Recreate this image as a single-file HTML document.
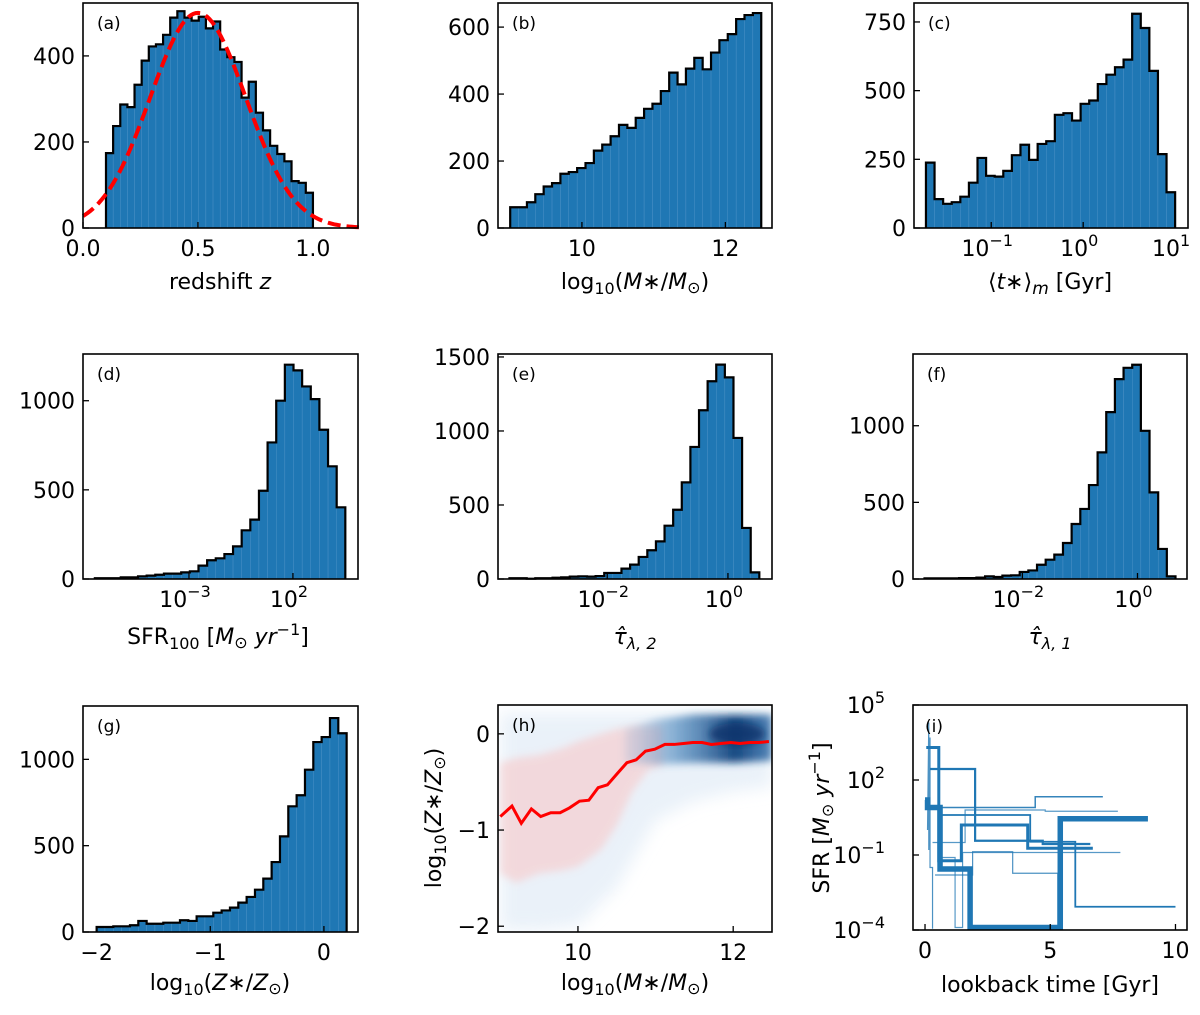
<!DOCTYPE html>
<html><head><meta charset="utf-8">
<style>
html,body{margin:0;padding:0;background:#fff;}
svg{display:block;font-family:"DejaVu Sans","Liberation Sans",sans-serif;}
</style></head>
<body>
<svg id="fig" width="1200" height="1015" viewBox="0 0 1200 1015" xmlns="http://www.w3.org/2000/svg">
<defs>
<filter id="blur4" x="-20%" y="-20%" width="140%" height="140%"><feGaussianBlur stdDeviation="4"/></filter>
<filter id="blur8" x="-30%" y="-30%" width="160%" height="160%"><feGaussianBlur stdDeviation="8"/></filter>
<linearGradient id="blueGrad" x1="0" y1="0" x2="1" y2="0">
<stop offset="0" stop-color="#6a9ccb" stop-opacity="0.15"/>
<stop offset="0.35" stop-color="#3f7fb8" stop-opacity="0.6"/>
<stop offset="0.75" stop-color="#0d3f7a" stop-opacity="0.95"/>
<stop offset="1" stop-color="#2a6aa8" stop-opacity="0.8"/>
</linearGradient>
<clipPath id="clipH"><rect x="498" y="705" width="274" height="227"/></clipPath>
<clipPath id="clipI"><rect x="913" y="705" width="274" height="225"/></clipPath>
</defs>
</svg>
<script>
// ---------- DATA ----------
const aRange=[0.1,1.0];
const aCounts=[174,237,287,281,333,389,422,427,449,489,504,489,482,491,464,480,415,397,386,303,340,268,227,191,172,155,109,105,82];
const gaussMu=0.5, gaussSigma=0.208, gaussAmp=500;
const bRange=[9.0,12.5];
const bCounts=[62,62,77,101,124,134,162,167,179,194,231,249,274,308,299,329,356,371,409,464,429,476,508,474,524,561,579,624,636,642];
const cRangeLog=[-1.71,1.0];
const cCounts=[238,105,88,94,114,165,255,190,187,208,265,303,248,306,316,412,418,391,452,464,524,558,585,613,780,728,572,269,130];
const dRangeLog=[-7.53,4.52];
const dCounts=[4,4,4,9,9,15,19,24,30,30,37,43,75,105,116,140,183,273,333,495,766,1000,1202,1170,1080,1009,837,632,402];
const eRangeLog=[-3.62,0.52];
const eCounts=[5,5,2,5,5,9,11,16,18,16,20,41,41,70,97,149,194,254,360,468,653,892,1140,1336,1448,1362,953,345,45];
const fRangeLog=[-3.70,0.66];
const fCounts=[4,4,4,4,6,6,9,17,13,22,24,46,56,93,126,159,235,359,457,613,826,1089,1304,1378,1398,967,565,196,17];
const gRange=[-2.0,0.2];
const gCounts=[29,29,33,33,39,64,48,48,54,54,68,64,91,91,112,125,141,170,203,245,309,405,554,728,792,940,1100,1129,1239,1151];
// panel h
const hMedX=[9.0,9.15,9.27,9.4,9.52,9.65,9.77,9.89,10.02,10.14,10.26,10.38,10.51,10.63,10.75,10.87,10.99,11.12,11.24,11.36,11.48,11.6,11.72,11.84,11.97,12.09,12.21,12.33,12.46];
const hMedY=[-0.86,-0.75,-0.93,-0.78,-0.86,-0.82,-0.82,-0.77,-0.70,-0.69,-0.56,-0.53,-0.41,-0.30,-0.27,-0.18,-0.16,-0.11,-0.11,-0.10,-0.09,-0.09,-0.11,-0.10,-0.09,-0.10,-0.09,-0.09,-0.08];
const hBandX=[9.0,9.2,9.5,9.8,10.0,10.3,10.5,10.7,10.9,11.1];
const hBandHi=[-0.30,-0.25,-0.22,-0.15,-0.08,0.0,0.05,0.08,0.08,0.08];
const hBandLo=[-1.45,-1.55,-1.45,-1.42,-1.38,-1.2,-0.95,-0.6,-0.38,-0.32];
const hCloudX=[9.0,9.5,10.0,10.5,11.0,11.5,12.0,12.5];
const hCloudHi=[0.22,0.22,0.22,0.22,0.22,0.22,0.22,0.22];
const hCloudLo=[-2.05,-2.05,-2.0,-1.6,-0.9,-0.7,-0.6,-0.55];
const hDenseX=[10.6,11.0,11.5,12.0,12.5];
const hDenseHi=[0.05,0.15,0.2,0.2,0.2];
const hDenseLo=[-0.3,-0.32,-0.3,-0.3,-0.28];
// panel i: step series [t Gyr], [log10 SFR]
const iT1=[0.0,0.1,0.1,0.6,0.6,1.8,1.8,5.4,5.4,8.9];
const iS1=[1.2,1.2,0.9,0.9,-1.56,-1.56,-3.9,-3.9,0.45,0.45];
const iT2=[0.05,0.55,0.55,1.45,1.45,4.1,4.1,6.7];
const iS2=[3.3,3.3,-1.23,-1.23,0.2,0.2,-0.73,-0.73];
const iT3=[0.2,0.6,0.6,2.0,2.0,4.7,4.7,6.6];
const iS3=[2.44,2.44,2.44,2.44,-0.43,-0.43,-0.56,-0.56];
const iT4=[0.1,1.6,1.6,4.4,4.4,7.1];
const iS4=[0.9,0.9,0.9,0.9,1.33,1.33];
const iT5=[0.3,1.6,1.6,4.8,4.8,7.7];
const iS5=[-0.5,-0.5,0.8,0.8,0.75,0.75];
const iT6=[0.5,4.2,4.2,6.0,6.0,10.0];
const iS6=[0.6,0.6,-0.47,-0.47,-3.07,-3.07];
const iT7=[0.4,1.9,1.9,3.5,3.5,5.3,5.3];
const iS7=[-1.8,-1.8,-0.87,-0.87,-1.73,-1.73,-3.9];
const iT8=[0.1,0.15,0.15,0.2,0.2,0.3,0.3];
const iS8=[0.0,4.3,-0.8,3.7,-1.5,-1.5,-4];
const iT9=[0.5,1.2,1.2,1.5,1.5,4.7,4.7,7.8];
const iS9=[-1.1,-1.1,-3.9,-3.9,-0.9,-0.9,-0.9,-0.9];

// ---------- HELPERS ----------
const NS="http://www.w3.org/2000/svg";
const svg=document.getElementById('fig');
function el(tag,attrs,parent){const e=document.createElementNS(NS,tag);for(const k in attrs)e.setAttribute(k,attrs[k]);(parent||svg).appendChild(e);return e;}
function lin(d0,d1,r0,r1){return v=>r0+(v-d0)/(d1-d0)*(r1-r0);}
const BLUE="#1f77b4";
const TF=22;

function makePanel(name,box,xd,yd){
  const g=el('g',{});
  
  
  return {g,box,X:lin(xd[0],xd[1],box[0],box[1]),Y:lin(yd[0],yd[1],box[3],box[2])};
}
function frame(p){
  const b=p.box;
  const r=el('rect',{x:b[0],y:b[2],width:b[1]-b[0],height:b[3]-b[2],fill:'none',stroke:'#000','stroke-width':1.6},p.g);
  
  
}
function hist(p,range,counts,name){
  const gg=el('g',{},p.g);
  
  
  const n=counts.length,w=(range[1]-range[0])/n;
  let d='M'+p.X(range[0])+','+p.Y(0);
  counts.forEach((c,i)=>{
    const x0=p.X(range[0]+i*w),x1=p.X(range[0]+(i+1)*w);
    const r=el('rect',{x:x0,y:p.Y(c),width:x1-x0,height:p.Y(0)-p.Y(c),fill:BLUE,stroke:'#4f93c8','stroke-width':0.4},gg);
    
    
    d+=' L'+x0+','+p.Y(c)+' L'+x1+','+p.Y(c);
  });
  d+=' L'+p.X(range[1])+','+p.Y(0);
  const o=el('path',{d:d,fill:'none',stroke:'#000','stroke-width':2.2,'stroke-linejoin':'miter'},gg);
  
  
}
function tickLabel(p,txt,x,y,anchor,sup){
  const t=el('text',{x:x,y:y,'text-anchor':anchor,'font-size':TF,fill:'#000'},p.g);
  
  
  if(sup!==undefined){
    const a=el('tspan',{},t);a.textContent=txt;
    const s=el('tspan',{dy:-10,'font-size':16},t);s.textContent=sup;
  } else t.textContent=txt;
}
function xticks(p,vals,labels,sups){
  const b=p.box;
  vals.forEach((v,i)=>{
    const x=p.X(v);
    const l=el('line',{x1:x,x2:x,y1:b[3],y2:b[3]-6,stroke:'#000','stroke-width':1.3},p.g);
    
    
    tickLabel(p,labels[i],sups?x-4:x,b[3]+28,'middle',sups?sups[i]:undefined);
  });
}
function yticks(p,vals,labels,sups){
  const b=p.box;
  vals.forEach((v,i)=>{
    const y=p.Y(v);
    const l=el('line',{x1:b[0],x2:b[0]+6,y1:y,y2:y,stroke:'#000','stroke-width':1.3},p.g);
    
    
    tickLabel(p,labels[i],sups?b[0]-28:b[0]-8,y+8,'end',sups?sups[i]:undefined);
  });
}
function panelLabel(p,txt){
  const t=el('text',{x:p.box[0]+14,y:p.box[2]+26,'font-size':17},p.g);
  t.textContent=txt;
  
  
}
function axisLabel(p,html,x,y,rot){
  const t=el('text',{x:x,y:y,'text-anchor':'middle','font-size':22},p.g);
  if(rot)t.setAttribute('transform','rotate(-90 '+x+' '+y+')');
  t.innerHTML=html;
  
  
}
const SUB10='log<tspan dy="5" font-size="16">10</tspan><tspan dy="-5">(</tspan>';
const MSTAR=SUB10+'<tspan font-style="italic">M</tspan>∗/<tspan font-style="italic">M</tspan><tspan dy="4" font-size="16">⊙</tspan><tspan dy="-4">)</tspan>';
const ZSTAR=SUB10+'<tspan font-style="italic">Z</tspan>∗/<tspan font-style="italic">Z</tspan><tspan dy="4" font-size="16">⊙</tspan><tspan dy="-4">)</tspan>';
const SFRU='[<tspan font-style="italic">M</tspan><tspan dy="4" font-size="16">⊙</tspan><tspan dy="-4" font-style="italic"> yr</tspan><tspan dy="-9" font-size="16">−1</tspan><tspan dy="9">]</tspan>';

// ---------- PANEL A ----------
let pA=makePanel('panel-a-redshift',[83,358,3,228],[0,1.196],[0,523]);
hist(pA,aRange,aCounts,'redshift-histogram');
{
  let d='';
  for(let i=0;i<=120;i++){const z=i*0.01;const v=gaussAmp*Math.exp(-(z-gaussMu)*(z-gaussMu)/(2*gaussSigma*gaussSigma));d+=(i?' L':'M')+pA.X(z)+','+pA.Y(v);}
  const c=el('path',{d:d,fill:'none',stroke:'#ff0000','stroke-width':4,'stroke-dasharray':'13,6'},pA.g);
  
  
}
frame(pA);
xticks(pA,[0,0.5,1.0],['0.0','0.5','1.0']);
yticks(pA,[0,200,400],['0','200','400']);
panelLabel(pA,'(a)');
axisLabel(pA,'redshift <tspan font-style="italic">z</tspan>',220,289);

// ---------- PANEL B ----------
let pB=makePanel('panel-b-stellar-mass',[498,772,3,228],[8.83,12.65],[0,672]);
hist(pB,bRange,bCounts,'stellar-mass-histogram');
frame(pB);
xticks(pB,[10,12],['10','12']);
yticks(pB,[0,200,400,600],['0','200','400','600']);
panelLabel(pB,'(b)');
axisLabel(pB,MSTAR,635,289);

// ---------- PANEL C ----------
let pC=makePanel('panel-c-age',[914,1188,3,228],[-1.84,1.14],[0,819]);
hist(pC,cRangeLog,cCounts,'age-histogram');
frame(pC);
xticks(pC,[-1,0,1],['10','10','10'],['−1','0','1']);
yticks(pC,[0,250,500,750],['0','250','500','750']);
panelLabel(pC,'(c)');
axisLabel(pC,'⟨<tspan font-style="italic">t</tspan>∗⟩<tspan dy="5" font-size="17" font-style="italic">m</tspan><tspan dy="-5"> [Gyr]</tspan>',1050,289);

// ---------- PANEL D ----------
let pD=makePanel('panel-d-sfr',[83,358,354,579],[-8.1,5.13],[0,1262]);
hist(pD,dRangeLog,dCounts,'sfr-histogram');
frame(pD);
xticks(pD,[-3,2],['10','10'],['−3','2']);
yticks(pD,[0,500,1000],['0','500','1000']);
panelLabel(pD,'(d)');
axisLabel(pD,'SFR<tspan dy="5" font-size="16">100</tspan><tspan dy="-5"> </tspan>'+SFRU,218,644);

// ---------- PANEL E ----------
let pE=makePanel('panel-e-tau2',[498,772,354,579],[-3.81,0.73],[0,1520]);
hist(pE,eRangeLog,eCounts,'tau2-histogram');
frame(pE);
xticks(pE,[-2,0],['10','10'],['−2','0']);
yticks(pE,[0,500,1000,1500],['0','500','1000','1500']);
panelLabel(pE,'(e)');
axisLabel(pE,'<tspan font-style="italic">τ̂</tspan><tspan dy="5" font-size="16" font-style="italic">λ, 2</tspan>',635,644);

// ---------- PANEL F ----------
let pF=makePanel('panel-f-tau1',[913,1187,354,579],[-3.90,0.86],[0,1468]);
hist(pF,fRangeLog,fCounts,'tau1-histogram');
frame(pF);
xticks(pF,[-2,0],['10','10'],['−2','0']);
yticks(pF,[0,500,1000],['0','500','1000']);
panelLabel(pF,'(f)');
axisLabel(pF,'<tspan font-style="italic">τ̂</tspan><tspan dy="5" font-size="16" font-style="italic">λ, 1</tspan>',1050,644);

// ---------- PANEL G ----------
let pG=makePanel('panel-g-metallicity',[83,358,706,932],[-2.12,0.30],[0,1309]);
hist(pG,gRange,gCounts,'metallicity-histogram');
frame(pG);
xticks(pG,[-2,-1,0],['−2','−1','0']);
yticks(pG,[0,500,1000],['0','500','1000']);
panelLabel(pG,'(g)');
axisLabel(pG,ZSTAR,220,990);

// ---------- PANEL H ----------
let pH=makePanel('panel-h-mass-metallicity',[498,772,705,932],[8.97,12.5],[-2.06,0.30]);
function bandPath(p,xs,hi,lo){
  let d='';
  xs.forEach((x,i)=>{d+=(i?' L':'M')+p.X(x)+','+p.Y(hi[i]);});
  for(let i=xs.length-1;i>=0;i--)d+=' L'+p.X(xs[i])+','+p.Y(lo[i]);
  return d+' Z';
}
{
  const cg=el('g',{'clip-path':'url(#clipH)'},pH.g);
  
  
  const c1=el('path',{d:bandPath(pH,hCloudX,hCloudHi,hCloudLo),fill:'#e3edf7',opacity:0.75,filter:'url(#blur8)'},cg);
  
  
  const c2=el('path',{d:bandPath(pH,hBandX,hBandHi,hBandLo),fill:'#f8c9c9',opacity:0.6,filter:'url(#blur4)'},cg);
  
  
  const c3=el('path',{d:bandPath(pH,hDenseX,hDenseHi,hDenseLo),fill:'url(#blueGrad)',filter:'url(#blur4)'},cg);
  
  
  const c4=el('ellipse',{cx:pH.X(12.05),cy:pH.Y(0.0),rx:28,ry:11,fill:'#08306b',opacity:0.8,filter:'url(#blur4)'},cg);
  
  
  let d='';
  hMedX.forEach((x,i)=>{d+=(i?' L':'M')+pH.X(x)+','+pH.Y(hMedY[i]);});
  const m=el('path',{d:d,fill:'none',stroke:'#ff0000','stroke-width':3},cg);
  
  
}
frame(pH);
xticks(pH,[10,12],['10','12']);
yticks(pH,[-2,-1,0],['−2','−1','0']);
panelLabel(pH,'(h)');
axisLabel(pH,MSTAR,635,990);
axisLabel(pH,ZSTAR,441,818,true);

// ---------- PANEL I ----------
let pI=makePanel('panel-i-sfh',[913,1187,705,930],[-0.48,10.46],[-4,5]);
{
  const cg=el('g',{'clip-path':'url(#clipI)'},pI.g);
  
  
  const series=[[iT9,iS9,1.2,0.75],[iT8,iS8,1.2,0.8],[iT7,iS7,1.2,0.8],[iT6,iS6,1.8,1],[iT5,iS5,1.2,0.75],[iT4,iS4,1.5,0.9],[iT3,iS3,2.2,1],[iT2,iS2,3,1],[iT1,iS1,5.5,1]];
  series.forEach(s=>{
    let d='';
    s[0].forEach((t,i)=>{d+=(i?' L':'M')+pI.X(t)+','+pI.Y(Math.max(s[1][i],-3.95));});
    const l=el('path',{d:d,fill:'none',stroke:BLUE,'stroke-width':s[2],opacity:s[3]},cg);
    
    
  });
}
frame(pI);
xticks(pI,[0,5,10],['0','5','10']);
yticks(pI,[-4,-1,2,5],['10','10','10','10'],['−4','−1','2','5']);
{
  const t=el('text',{x:pI.box[0]+12,y:pI.box[2]+27,'font-size':17},pI.g);
  t.textContent='(i)';
  
  
}
axisLabel(pI,'lookback time [Gyr]',1050,992);
axisLabel(pI,'SFR '+SFRU,829,818,true);
</script>
</body></html>
